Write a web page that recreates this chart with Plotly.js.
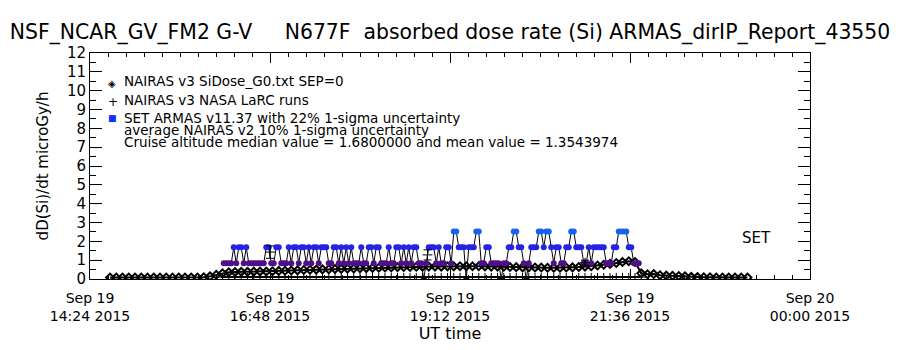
<!DOCTYPE html>
<html><head><meta charset="utf-8">
<script src="https://cdn.plot.ly/plotly-3.0.1.min.js"></script>
<style>html,body{margin:0;padding:0;background:#fff}</style>
</head><body><div id="chart" style="width:900px;height:350px"></div>
<script>
// ---------- data ----------
// SET ARMAS v11.37 absorbed dose rate (microGy/h), 2-minute records starting 16:11 UT
const armasStart = '2015-09-19T16:11:00';
const armasStepMin = 2;
const armasDose = [
 .84,.84,.84,.84,1.68,.84,1.68,1.68,.84,1.68,
 .84,.84,.84,.84,.84,.84,.84,1.68,1.68,.84,
 .84,1.68,1.68,.84,.84,.84,1.68,.84,1.68,1.68,
 .84,1.68,1.68,.84,1.68,.84,1.68,1.68,.84,1.68,
 1.68,1.68,.84,.84,1.68,1.68,.84,1.68,.84,1.68,
 .84,1.68,.84,.84,.84,1.68,.84,.84,1.68,1.68,
 .84,1.68,1.68,.84,.84,.84,1.68,.84,.84,1.68,
 1.68,.84,1.68,.84,1.68,.84,1.68,1.68,.84,.84,
 0,.84,1.68,1.68,1.68,.84,1.68,.84,.84,1.68,
 1.68,.84,2.52,2.52,1.68,1.68,1.68,0,1.68,1.68,
 1.68,2.52,2.52,.84,.84,1.68,1.68,.84,.84,.84,
 .84,0,.84,.84,1.68,1.68,2.52,2.52,1.68,1.68,
 .84,0,.84,1.68,1.68,1.68,2.52,2.52,1.68,2.52,
 2.52,1.68,.84,1.68,1.68,.84,.84,1.68,1.68,2.52,
 2.52,1.68,1.68,1.68,.84,.84,1.68,.84,1.68,1.68,
 1.68,1.68,1.68,.84,.84,.84,1.68,1.68,2.52,2.52,
 2.52,2.52,1.68,1.68,.84,.84,.84
];
// NAIRAS v3 SiDose_G0.txt SEP=0, 5-minute values starting 14:40 UT
const nairasStart = '2015-09-19T14:40:00';
const nairasStepMin = 5;
const nairasDose = [
 .08,.08,.08,.08,.08,.08,.08,.08,.08,.08,
 .08,.08,.08,.08,.08,.09,.14,.22,.30,.36,
 .37,.38,.38,.39,.40,.40,.41,.43,.44,.45,
 .46,.48,.49,.50,.51,.52,.53,.54,.55,.56,
 .57,.58,.59,.60,.61,.62,.63,.64,.64,.65,
 .65,.66,.66,.66,.67,.67,.68,.68,.68,.68,
 .67,.66,.66,.65,.64,.63,.62,.62,.61,.61,
 .60,.60,.60,.61,.62,.64,.66,.68,.72,.76,
 .80,.85,.90,.94,.90,.30,.25,.26,.20,.18,
 .17,.16,.14,.12,.10,.09,.09,.08,.08,.08,
 .08,.08,.08
];
// NAIRAS v3 NASA LaRC runs, 5-minute values starting 16:10 UT
const larcStart = '2015-09-19T16:10:00';
const larcStepMin = 5;
const larcDose = [
 .10,.10,.10,.10,.10,.10,.10,.10,.10,.10,
 .10,.10,.10,.10,.10,.10,.10,.10,.10,.10,
 .10,.10,.10,.10,.10,.10,.10,.10,.10,.10,
 .10,.10,.10,.10,.10,.10,.10,.10,.10,.10,
 .10,.10,.10,.10,.10,.10,.10,.10,.10,.10,
 .10,.10,.10,.10,.10,.10,.10,.10,.10,.10,
 .10,.10,.10,.10,.10,.10,.10,.10
];
// average NAIRAS v2 with 1-sigma uncertainty
const avgTimes = ['2015-09-19 16:48', '2015-09-19 18:54', '2015-09-19 21:00'];
const avgDose  = [1.43, 1.28, 0.87];
const avgSigma = [0.33, 0.27, 0.13];

const xTickVals = ['2015-09-19 14:24', '2015-09-19 16:48', '2015-09-19 19:12', '2015-09-19 21:36', '2015-09-20 00:00'];
const xTickText = ['Sep 19<br>14:24 2015', 'Sep 19<br>16:48 2015', 'Sep 19<br>19:12 2015', 'Sep 19<br>21:36 2015', 'Sep 20<br>00:00 2015'];
const xRange = ['2015-09-19 14:24', '2015-09-20 00:00'];

// ---------- helpers ----------
function timeSeries(start, stepMin, n) {
  const t0 = Date.parse(start + 'Z');
  return Array.from({length: n}, (_, i) =>
    new Date(t0 + i * stepMin * 60000).toISOString().slice(0, 19).replace('T', ' '));
}
const levelColor = v => v >= 2.5 ? '#1464f0' : v >= 1.6 ? '#2424e8' : v > 0.5 ? '#4f0f88' : '#000000';

const FONT = 'DejaVu Sans, Arial, sans-serif';

const traces = [
  {
    x: timeSeries(larcStart, larcStepMin, larcDose.length), y: larcDose,
    type: 'scatter', mode: 'lines+markers', name: 'NAIRAS v3 NASA LaRC runs',
    line: {color: '#000', width: 2},
    marker: {symbol: 'cross-thin-open', size: 6, color: '#000', line: {width: 1, color: '#000'}},
    showlegend: false
  },
  {
    x: timeSeries(nairasStart, nairasStepMin, nairasDose.length), y: nairasDose,
    type: 'scatter', mode: 'lines+markers', name: 'NAIRAS v3 SiDose_G0.txt SEP=0',
    line: {color: '#000', width: 2},
    marker: {symbol: 'diamond-open', size: 6, color: '#000', line: {width: 2, color: '#000'}},
    showlegend: false
  },
  {
    x: timeSeries(armasStart, armasStepMin, armasDose.length), y: armasDose,
    type: 'scatter', mode: 'lines+markers', name: 'SET ARMAS v11.37',
    line: {color: '#000', width: 1},
    marker: {symbol: 'circle', size: 6, color: armasDose.map(levelColor), line: {width: 0}},
    showlegend: false
  },
  {
    x: avgTimes, y: avgDose, type: 'scatter', mode: 'markers', name: 'average NAIRAS v2',
    marker: {symbol: 'cross-thin-open', size: 7, color: '#000', line: {width: 1, color: '#000'}},
    error_y: {type: 'data', array: avgSigma, visible: true, color: '#000', thickness: 1, width: 4},
    showlegend: false
  }
];

const px = x => (x - 90) / 720;
const py = y => (279 - y) / 226;
const ann = (x, y, text, extra) => Object.assign({
  xref: 'paper', yref: 'paper', x: px(x), y: py(y), text: text, showarrow: false,
  xanchor: 'left', yanchor: 'middle', font: {family: FONT, size: 13.5, color: '#000'}
}, extra || {});

const layout = {
  width: 900, height: 350,
  margin: {l: 90, r: 90, t: 53, b: 71, pad: 0},
  paper_bgcolor: '#fff', plot_bgcolor: '#fff',
  showlegend: false,
  font: {family: FONT, color: '#000'},
  title: {
    text: 'NSF_NCAR_GV_FM2 G-V     N677F  absorbed dose rate (Si) ARMAS_dirIP_Report_43550',
    x: 0.5, xanchor: 'center', xref: 'container', y: 1 - 32 / 350, yanchor: 'middle', yref: 'container',
    font: {family: FONT, size: 20.4, color: '#000'}
  },
  xaxis: {
    type: 'date', range: xRange, tickmode: 'array', tickvals: xTickVals, ticktext: xTickText,
    ticks: 'inside', ticklen: 10, tickwidth: 1, tickcolor: '#000',
    showline: true, linecolor: '#000', linewidth: 1, mirror: 'ticks',
    showgrid: false, zeroline: false, ticklabelstandoff: 6,
    tickfont: {family: FONT, size: 14, color: '#000'},
    minor: {tickmode: 'linear', tick0: '2015-09-19 14:24', dtick: 14.4 * 60000, ticks: 'inside', ticklen: 4, tickcolor: '#000', showgrid: false},
    title: {text: 'UT time', font: {family: FONT, size: 16, color: '#000'}, standoff: 3}
  },
  yaxis: {
    range: [0, 12], tickmode: 'linear', tick0: 0, dtick: 1,
    ticks: 'inside', ticklen: 12, tickwidth: 1, tickcolor: '#000',
    showline: true, linecolor: '#000', linewidth: 1, mirror: 'ticks',
    showgrid: false, zeroline: false,
    tickfont: {family: FONT, size: 15, color: '#000'},
    minor: {dtick: 0.5, ticks: 'inside', ticklen: 6, tickcolor: '#000', showgrid: false},
    title: {text: 'dD(Si)/dt microGy/h', font: {family: FONT, size: 15, color: '#000'}, standoff: 14}
  },
  annotations: [
    ann(106, 83, '◈', {font: {family: FONT, size: 10, color: '#000'}}),
    ann(122, 81, 'NAIRAS v3 SiDose_G0.txt SEP=0'),
    ann(106, 102, '+', {font: {family: FONT, size: 12, color: '#000'}}),
    ann(122, 100, 'NAIRAS v3 NASA LaRC runs'),
    ann(106, 118, '■', {font: {family: FONT, size: 9, color: '#1030ff'}}),
    ann(122, 118, 'SET ARMAS v11.37 with 22% 1-sigma uncertainty'),
    ann(122, 130, 'average NAIRAS v2 10% 1-sigma uncertainty'),
    ann(122, 142, 'Cruise altitude median value = 1.6800000 and mean value = 1.3543974'),
    ann(740, 238, 'SET', {font: {family: FONT, size: 15, color: '#000'}})
  ]
};

Plotly.newPlot('chart', traces, layout, {displayModeBar: false, staticPlot: true});
</script>
</body></html>
